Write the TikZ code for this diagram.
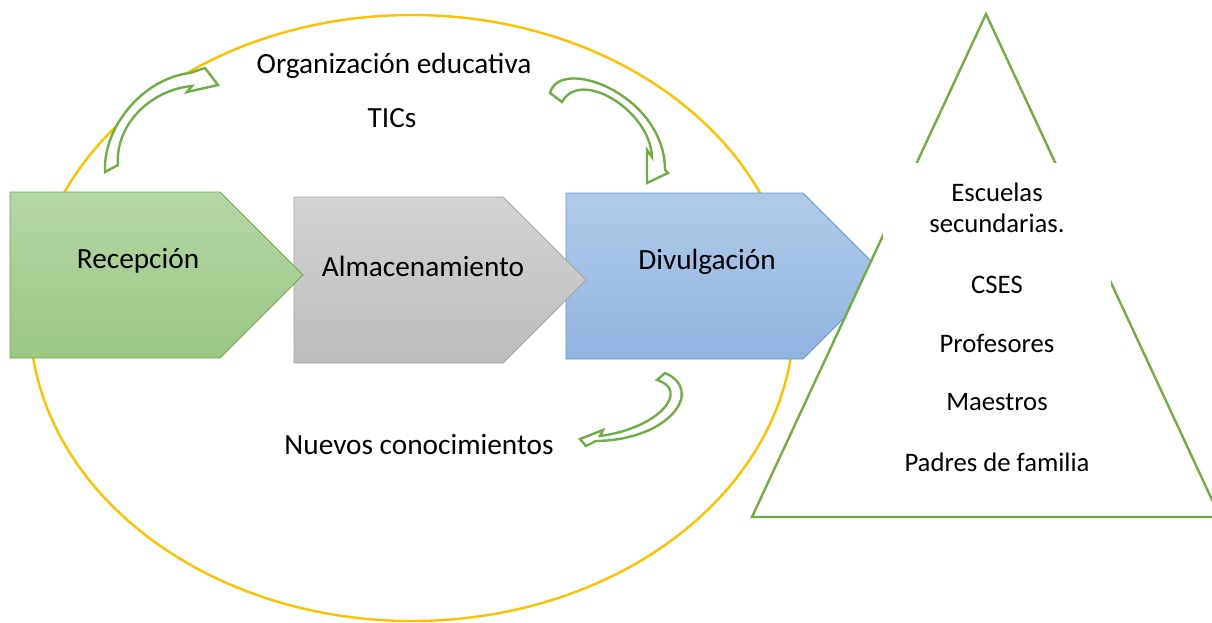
\documentclass[tikz,border=0pt]{standalone}
\usepackage{fontspec}
\setmainfont{Carlito}
\definecolor{ygold}{HTML}{FFC000}
\definecolor{agreen}{HTML}{70AD47}
\definecolor{gtop}{HTML}{B5D6A6}
\definecolor{gbot}{HTML}{9CC783}
\definecolor{gline}{HTML}{70AD47}
\definecolor{stop}{HTML}{D4D4D4}
\definecolor{sbot}{HTML}{BCBCBC}
\definecolor{sline}{HTML}{A5A5A5}
\definecolor{btop}{HTML}{B1CAE9}
\definecolor{bbot}{HTML}{90B4E1}
\definecolor{bline}{HTML}{5B9BD5}
\begin{document}
\begin{tikzpicture}[x=1pt,y=-1pt,
  mainlbl/.style={font=\fontsize{29.3}{35}\selectfont, inner sep=0pt, anchor=center},
  trilbl/.style={font=\fontsize{26.7}{32}\selectfont, inner sep=0pt, anchor=center},
  curvarrow/.style={draw=agreen, line width=2.4pt, fill=white, line join=miter},
  pent/.style={line width=0.9pt}]
\useasboundingbox (0,0) rectangle (1212,622);
% ellipse
\draw[ygold, line width=2.4pt] (412,318) ellipse [x radius=382, y radius=303];
% pentagons
\draw[pent, draw=bline, top color=btop, bottom color=bbot]
  (566,193) -- (803,193) -- (886,276) -- (803,359) -- (566,359) -- cycle;
\draw[pent, draw=sline, top color=stop, bottom color=sbot]
  (294,197) -- (503,197) -- (586,280) -- (503,363) -- (294,363) -- cycle;
\draw[pent, draw=gline, top color=gtop, bottom color=gbot]
  (10,192) -- (220,192) -- (303,275) -- (220,358) -- (10,358) -- cycle;
\node[mainlbl] (rec) at (138,261) {Recepción};
\node[mainlbl] (alm) at (423,266) {Almacenamiento};
\node[mainlbl] (div) at (707,262) {Divulgación};
% curved arrows
\draw[curvarrow] (105,172) .. controls (103,125) and (145,78) .. (190,73)
  -- (205,68) -- (218,85) -- (187,92) -- (192,86)
  .. controls (150,90) and (115,125) .. (118,165) -- cycle;
\draw[curvarrow] (550,93) .. controls (560,55) and (665,95) .. (665,170)
  -- (668,173) -- (647,183) -- (647,150) -- (652,157)
  .. controls (650,110) and (580,68) .. (562,102) -- cycle;
\draw[curvarrow] (665,373) .. controls (705,390) and (670,440) .. (596,441)
  -- (586,446) -- (580,439) -- (603,430) -- (600,436)
  .. controls (660,428) and (690,390) .. (657,380) -- cycle;
\node[mainlbl] (org) at (394,66) {Organización educativa};
\node[mainlbl] (tic) at (392,118) {TICs};
\node[mainlbl] (nue) at (419,445) {Nuevos conocimientos};
% triangle
\draw[agreen, line width=2.4pt, fill=white] (986,14) -- (752,517) -- (1220,517) -- cycle;
\fill[white] (883,163) rectangle (1111,480);
\node[trilbl] (esc) at (997,192) {Escuelas};
\node[trilbl] (sec) at (997,223) {secundarias.};
\node[trilbl] (cse) at (997,285) {CSES};
\node[trilbl] (pro) at (997,343) {Profesores};
\node[trilbl] (mae) at (997,402) {Maestros};
\node[trilbl] (pad) at (997,462) {Padres de familia};
\end{tikzpicture}
\end{document}
